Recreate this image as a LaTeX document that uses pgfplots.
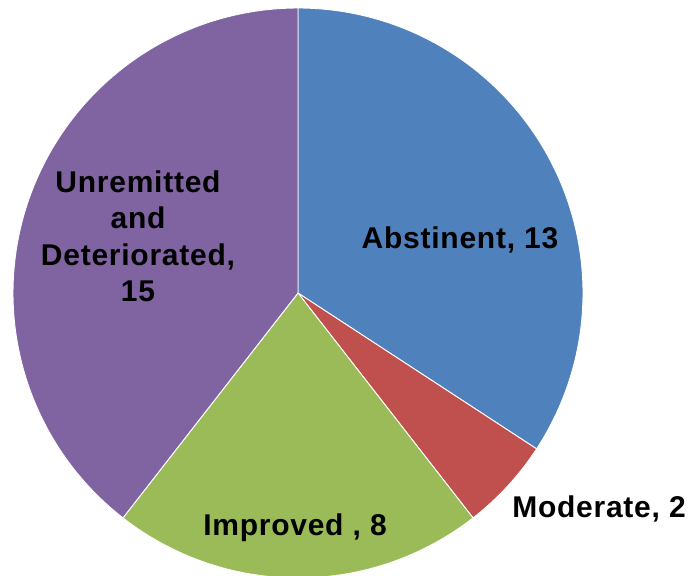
\documentclass[border=0pt]{standalone}
\usepackage{pgfplots}
\pgfplotsset{compat=1.18}
\usepackage{fontspec}
\setmainfont{Liberation Sans}
\newfontfamily\lblfont[LetterSpace=2.5]{Liberation Sans}
\definecolor{cA}{HTML}{4F81BD}
\definecolor{cB}{HTML}{C0504D}
\definecolor{cC}{HTML}{9BBB59}
\definecolor{cD}{HTML}{8064A2}
% values
\def\vA{13}\def\vB{2}\def\vC{8}\def\vD{15}
\pgfmathsetmacro\tot{\vA+\vB+\vC+\vD}
\pgfmathsetmacro\aA{90}
\pgfmathsetmacro\aB{\aA-\vA*360/\tot}
\pgfmathsetmacro\aC{\aB-\vB*360/\tot}
\pgfmathsetmacro\aD{\aC-\vC*360/\tot}
\pgfmathsetmacro\aE{\aD-\vD*360/\tot}
\def\cx{298}\def\cy{-293}\def\R{285}
\begin{document}
\begin{tikzpicture}
\begin{axis}[
  scale only axis, width=689pt, height=576pt,
  xmin=0, xmax=689, ymin=-576, ymax=0,
  hide axis, clip mode=individual,
  every axis plot/.append style={draw=white, line width=0.9pt, samples=120, variable=\t},
]
\addplot[fill=cA, domain=\aB:\aA] ({\cx+\R*cos(\t)},{\cy+\R*sin(\t)}) -- (axis cs:\cx,\cy) -- cycle;
\addplot[fill=cB, domain=\aC:\aB] ({\cx+\R*cos(\t)},{\cy+\R*sin(\t)}) -- (axis cs:\cx,\cy) -- cycle;
\addplot[fill=cC, domain=\aD:\aC] ({\cx+\R*cos(\t)},{\cy+\R*sin(\t)}) -- (axis cs:\cx,\cy) -- cycle;
\addplot[fill=cD, domain=\aE:\aD] ({\cx+\R*cos(\t)},{\cy+\R*sin(\t)}) -- (axis cs:\cx,\cy) -- cycle;
\tikzset{lbl/.style={anchor=base, inner sep=0pt, font=\lblfont\fontsize{30}{37}\selectfont\bfseries}}
\node[lbl] at (axis cs:460,-249) {Abstinent, 13};
\node[lbl] at (axis cs:599,-518) {Moderate, 2};
\node[lbl] at (axis cs:295,-536) {Improved , 8};
\node[lbl] at (axis cs:138,-193) {Unremitted};
\node[lbl] at (axis cs:138,-229) {and};
\node[lbl] at (axis cs:138,-266) {Deteriorated,};
\node[lbl] at (axis cs:138,-302) {15};
\end{axis}
\path (current axis.south west) rectangle (current axis.north east);
\end{tikzpicture}
\end{document}
